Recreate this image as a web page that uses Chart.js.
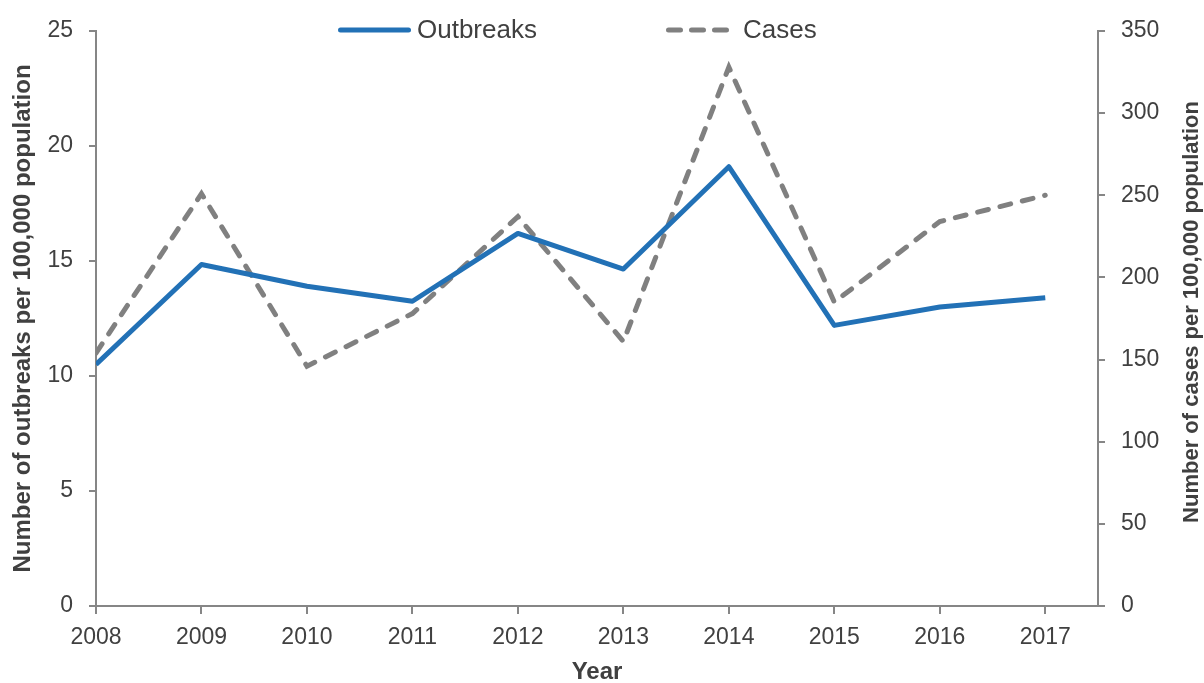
<!DOCTYPE html>
<html>
<head>
<meta charset="utf-8">
<script src="https://cdn.jsdelivr.net/npm/chart.js@4.4.1/dist/chart.umd.min.js"></script>
<style>
  html, body { margin: 0; padding: 0; background: #fff; }
</style>
</head>
<body>
<canvas id="lineChart" width="1204" height="683"></canvas>
<script>
// Outbreaks and cases per 100,000 population, 2008-2017
const years = [2008, 2009, 2010, 2011, 2012, 2013, 2014, 2015, 2016, 2017];
const outbreaks = [10.5, 14.85, 13.9, 13.25, 16.2, 14.65, 19.1, 12.2, 13.0, 13.4];
const cases = [154, 251, 146, 178, 237, 161, 328, 185, 234, 250];
const leftTicks = [0, 5, 10, 15, 20, 25];
const rightTicks = [0, 50, 100, 150, 200, 250, 300, 350];

const FONT = '"Liberation Sans", Arial, sans-serif';
const AXIS = '#868686';
const TEXT = '#404040';

// legend drawn at the top, inside the plot
const topLegend = {
  id: 'topLegend',
  afterDraw(chart) {
    const ctx = chart.ctx;
    const spots = [[340.5, 408.5, 417], [668.5, 726.5, 743]];
    ctx.save();
    ctx.font = '26px ' + FONT;
    ctx.textBaseline = 'middle';
    chart.data.datasets.forEach(function(ds, i) {
      const s = spots[i];
      ctx.beginPath();
      ctx.lineWidth = ds.borderWidth;
      ctx.strokeStyle = ds.borderColor;
      ctx.lineCap = 'round';
      ctx.setLineDash(ds.legendDash || []);
      ctx.moveTo(s[0], 30);
      ctx.lineTo(s[1], 30);
      ctx.stroke();
      ctx.setLineDash([]);
      ctx.fillStyle = TEXT;
      ctx.fillText(ds.label, s[2], 31);
    });
    ctx.restore();
  }
};

// right axis title reads bottom to top, like the left one
const rightTitle = {
  id: 'rightTitle',
  afterDraw(chart) {
    const ctx = chart.ctx;
    ctx.save();
    ctx.font = 'bold 22px ' + FONT;
    ctx.fillStyle = TEXT;
    ctx.textAlign = 'center';
    ctx.textBaseline = 'middle';
    ctx.translate(1192, 312);
    ctx.rotate(-Math.PI / 2);
    ctx.fillText('Number of cases per 100,000 population', 0, 0);
    ctx.restore();
  }
};

const ctx = document.getElementById('lineChart').getContext('2d');

new Chart(ctx, {
  type: 'line',
  data: {
    datasets: [{
      label: 'Outbreaks',
      data: years.map((y, i) => ({ x: y, y: outbreaks[i] })),
      yAxisID: 'y',
      borderColor: '#2271b6',
      borderWidth: 5,
      borderJoinStyle: 'round',
      pointRadius: 0,
      tension: 0
    }, {
      label: 'Cases',
      data: years.map((y, i) => ({ x: y, y: cases[i] })),
      yAxisID: 'y1',
      borderColor: '#808080',
      borderWidth: 5,
      borderDash: [11, 12],
      borderCapStyle: 'round',
      legendDash: [12, 11],
      pointRadius: 0,
      tension: 0
    }]
  },
  options: {
    responsive: false,
    animation: false,
    devicePixelRatio: 1,
    layout: { padding: { top: 31, left: 0, right: 0, bottom: 0 } },
    plugins: {
      legend: { display: false },
      tooltip: { enabled: false }
    },
    scales: {
      x: {
        type: 'linear',
        min: years[0],
        max: years[years.length - 1] + 0.5,
        afterBuildTicks: s => { s.ticks = years.map(v => ({ value: v })); },
        afterFit: s => { s.height = 77; },
        grid: { drawOnChartArea: false, color: AXIS, lineWidth: 2, tickLength: 8 },
        border: { color: AXIS, width: 2 },
        ticks: { color: TEXT, font: { family: FONT, size: 23 }, padding: 10, maxRotation: 0,
                 callback: v => String(v) },
        title: { display: true, text: 'Year', color: TEXT,
                 font: { family: FONT, size: 24, weight: 'bold' }, padding: { top: 0, bottom: -4 } }
      },
      y: {
        position: 'left',
        min: leftTicks[0],
        max: leftTicks[leftTicks.length - 1],
        afterBuildTicks: s => { s.ticks = leftTicks.map(v => ({ value: v })); },
        afterFit: s => { s.width = 96; },
        grid: { drawOnChartArea: false, color: AXIS, lineWidth: 2, tickLength: 7 },
        border: { color: AXIS, width: 2 },
        ticks: { color: TEXT, font: { family: FONT, size: 23 }, padding: 16 },
        title: { display: true, text: 'Number of outbreaks per 100,000 population', color: TEXT,
                 font: { family: FONT, size: 24, weight: 'bold' }, padding: { top: 9, bottom: 0 } }
      },
      y1: {
        position: 'right',
        min: rightTicks[0],
        max: rightTicks[rightTicks.length - 1],
        afterBuildTicks: s => { s.ticks = rightTicks.map(v => ({ value: v })); },
        afterFit: s => { s.width = 106; },
        grid: { drawOnChartArea: false, color: AXIS, lineWidth: 2, tickLength: 7 },
        border: { color: AXIS, width: 2 },
        ticks: { color: TEXT, font: { family: FONT, size: 23 }, padding: 16 }
      }
    }
  },
  plugins: [topLegend, rightTitle]
});
</script>
</body>
</html>
